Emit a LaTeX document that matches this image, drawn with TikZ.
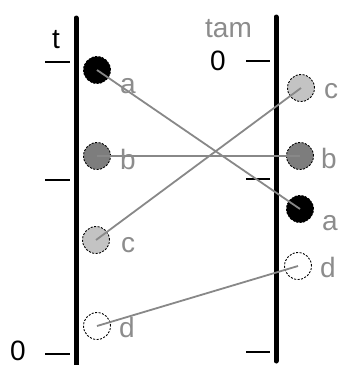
\documentclass[tikz,border=0pt]{standalone}
\usepackage{fontspec}
\setmainfont{Liberation Sans}
\definecolor{lbl}{RGB}{140,140,140}
\definecolor{lnk}{RGB}{136,136,136}
\definecolor{midg}{RGB}{125,125,125}
\definecolor{lightg}{RGB}{195,195,195}
\begin{document}
\begin{tikzpicture}[x=1pt,y=-1pt,
  axis/.style={line width=5pt,line cap=round},
  tick/.style={line width=1.3pt},
  dot/.style={circle,minimum size=27pt,inner sep=0pt,draw=black,line width=0.9pt,dash pattern=on 2pt off 1.5pt},
  lab/.style={anchor=base west,inner sep=0pt,text=lbl,font=\fontsize{28}{30}\selectfont},
  num/.style={anchor=base west,inner sep=0pt,font=\fontsize{28}{30}\selectfont},
  link/.style={draw=lnk,line width=1.8pt}]
\useasboundingbox (0,0) rectangle (340,365);
% axes
\coordinate (LT) at (76,18); \coordinate (LB) at (76,368);
\coordinate (RT) at (276,17); \coordinate (RB) at (276,361);
\draw[axis] (LT) -- (LB);
\draw[axis] (RT) -- (RB);
% ticks
\coordinate (lt1a) at (45,62); \coordinate (lt1b) at (70,62);
\coordinate (lt2a) at (45,180); \coordinate (lt2b) at (70,180);
\coordinate (lt3a) at (45,354); \coordinate (lt3b) at (70,354);
\coordinate (rt1a) at (246,61); \coordinate (rt1b) at (270,61);
\coordinate (rt2a) at (246,179); \coordinate (rt2b) at (270,179);
\coordinate (rt3a) at (246,352); \coordinate (rt3b) at (270,352);
\draw[tick] (lt1a) -- (lt1b); \draw[tick] (lt2a) -- (lt2b); \draw[tick] (lt3a) -- (lt3b);
\draw[tick] (rt1a) -- (rt1b); \draw[tick] (rt2a) -- (rt2b); \draw[tick] (rt3a) -- (rt3b);
% axis texts
\node[num] (tt) at (52,48) {t};
\node[num] (z1) at (10,360) {0};
\node[num] (z2) at (210,70) {0};
\node[lab] (tam) at (205,37) {tam};
% circles
\node[dot,fill=black] (La) at (97,70) {};
\node[dot,fill=midg] (Lb) at (97,156) {};
\node[dot,fill=lightg] (Lc) at (96,240) {};
\node[dot,fill=white] (Ld) at (97,326) {};
\node[dot,fill=lightg] (Rc) at (301,88) {};
\node[dot,fill=midg] (Rb) at (300,156) {};
\node[dot,fill=black] (Ra) at (300,209) {};
\node[dot,fill=white] (Rd) at (298,266) {};
% links
\draw[link] (La.center) -- (Ra.center);
\draw[link] (Lb.center) -- (Rb.center);
\draw[link] (Lc.center) -- (Rc.center);
\draw[link] (Ld.center) -- (Rd.center);
% labels
\node[lab] (la) at (120,93) {a};
\node[lab] (lb) at (120,169) {b};
\node[lab] (lc) at (121,252) {c};
\node[lab] (ld) at (119,337) {d};
\node[lab] (rc) at (324,98) {c};
\node[lab] (rb) at (321,168) {b};
\node[lab] (ra) at (322,230) {a};
\node[lab] (rd) at (320,277) {d};
\end{tikzpicture}
\end{document}
